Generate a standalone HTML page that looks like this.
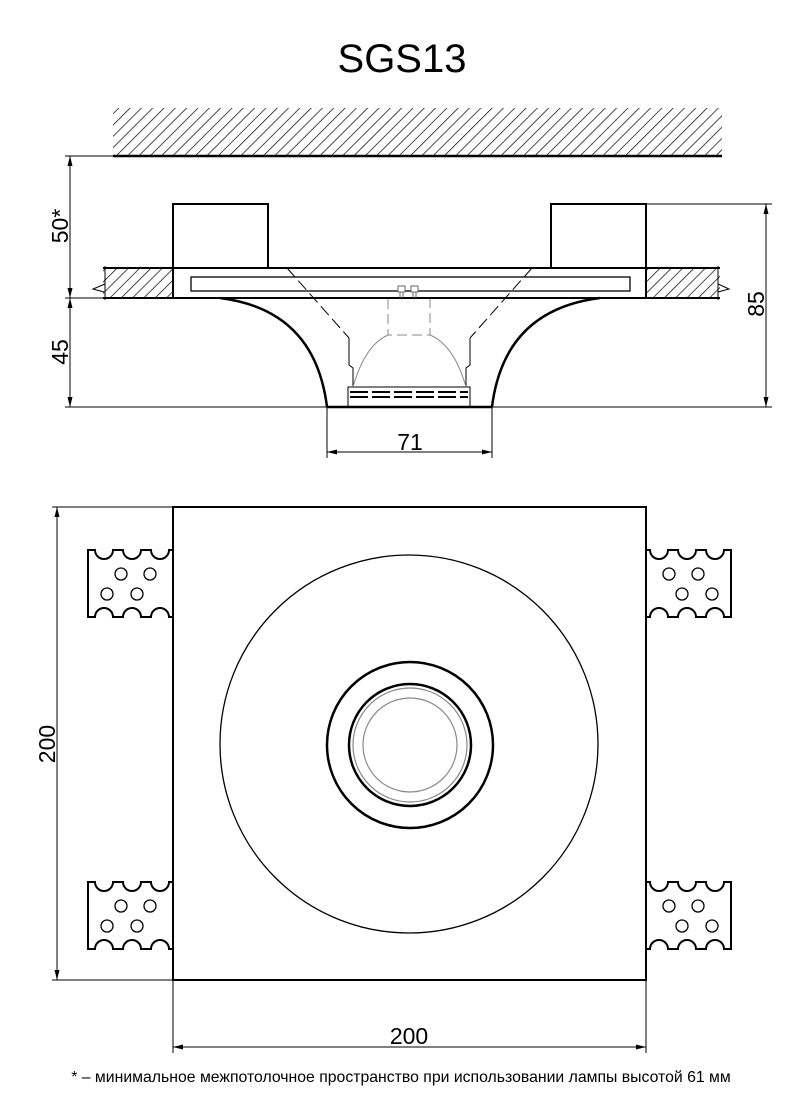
<!DOCTYPE html>
<html><head><meta charset="utf-8"><style>
body{margin:0;background:#fff}
svg{display:block}
text{font-family:"Liberation Sans",sans-serif;fill:#000}
</style></head><body>
<svg width="800" height="1096" viewBox="0 0 800 1096" xmlns="http://www.w3.org/2000/svg">
<defs>
<pattern id="h" patternUnits="userSpaceOnUse" width="8" height="8" patternTransform="rotate(45)">
<line x1="0" y1="0" x2="0" y2="8" stroke="#000" stroke-width="1.4"/>
</pattern>
<marker id="a" viewBox="0 0 10 10" refX="10" refY="5" markerWidth="10" markerHeight="10" orient="auto-start-reverse" markerUnits="userSpaceOnUse"><path d="M0,2.5 L10,5 L0,7.5 z" fill="#000"/></marker>
<g id="tab">
<path d="M88,550 L95,550 A9,9 0 0 0 113,550 L123,550 A9,9 0 0 0 141,550 L151,550 A9,9 0 0 0 169,550 L173,550 L173,617 L169,617 A9,9 0 0 0 151,617 L141,617 A9,9 0 0 0 123,617 L113,617 A9,9 0 0 0 95,617 L88,617 Z" fill="#fff" stroke="#000" stroke-width="2"/>
<circle cx="121" cy="574" r="6" fill="none" stroke="#000" stroke-width="1.3"/>
<circle cx="150" cy="574" r="6" fill="none" stroke="#000" stroke-width="1.3"/>
<circle cx="107" cy="594" r="6" fill="none" stroke="#000" stroke-width="1.3"/>
<circle cx="137" cy="594" r="6" fill="none" stroke="#000" stroke-width="1.3"/>
</g>
</defs>
<text x="402" y="72" font-size="40" text-anchor="middle">SGS13</text>
<rect x="113" y="108" width="609" height="48" fill="url(#h)"/>
<line x1="113" y1="156" x2="722" y2="156" stroke="#000" stroke-width="2.5"/>
<line x1="65" y1="156" x2="113" y2="156" stroke="#000"/>
<line x1="65" y1="298" x2="110" y2="298" stroke="#000"/>
<line x1="65" y1="407" x2="327" y2="407" stroke="#000"/>
<line x1="70" y1="156" x2="70" y2="298" stroke="#000" marker-start="url(#a)" marker-end="url(#a)"/>
<line x1="70" y1="298" x2="70" y2="407" stroke="#000" marker-start="url(#a)" marker-end="url(#a)"/>
<text transform="translate(68,226) rotate(-90)" font-size="23" text-anchor="middle">50*</text>
<text transform="translate(68,352) rotate(-90)" font-size="23" text-anchor="middle">45</text>
<rect x="103" y="268" width="70" height="30" fill="url(#h)"/>
<rect x="646" y="268" width="74" height="30" fill="url(#h)"/>
<path d="M103,268 H720 M103,298 H720" stroke="#000" stroke-width="2" fill="none"/>
<path d="M105,266 V300 M104,292 L93,289 L105,284" stroke="#000" fill="none"/>
<path d="M718,266 V300 M718,292 L729,289 L718,284" stroke="#000" fill="none"/>
<rect x="173" y="204" width="95" height="64" fill="#fff" stroke="#000" stroke-width="2"/>
<rect x="551" y="204" width="95" height="64" fill="#fff" stroke="#000" stroke-width="2"/>
<rect x="173" y="268" width="473" height="30" fill="#fff" stroke="#000" stroke-width="2"/>
<rect x="191" y="277" width="439" height="14" fill="none" stroke="#000" stroke-width="1.3"/>
<path d="M220,298 Q315,310 327,407" fill="none" stroke="#000" stroke-width="2.5"/>
<path d="M600,298 Q504,310 492,407" fill="none" stroke="#000" stroke-width="2.5"/>
<line x1="327" y1="407" x2="492" y2="407" stroke="#000" stroke-width="2.5"/>
<line x1="327" y1="407" x2="327" y2="458" stroke="#000"/>
<line x1="492" y1="407" x2="492" y2="458" stroke="#000"/>
<line x1="327" y1="452" x2="492" y2="452" stroke="#000" marker-start="url(#a)" marker-end="url(#a)"/>
<text x="410" y="450" font-size="23" text-anchor="middle">71</text>
<path d="M287,268 L349,338" stroke="#000" stroke-dasharray="12,5" fill="none"/>
<path d="M532,268 L470,338" stroke="#000" stroke-dasharray="12,5" fill="none"/>
<path d="M349,338 V365 L353,368 V387 M470,338 V365 L466,368 V387" stroke="#000" fill="none"/>
<rect x="348" y="387" width="122" height="20" fill="none" stroke="#000"/>
<path d="M350,392 H468 M350,397 H468" stroke="#000" stroke-width="2" stroke-dasharray="18,4"/>
<path d="M388,299 V335 H430 V299" stroke="#888" stroke-dasharray="10,5" fill="none"/>
<path d="M353,387 Q365,345 388,335 M466,387 Q454,345 430,335" stroke="#888" fill="none"/>
<rect x="398" y="286" width="7" height="6" fill="#fff" stroke="#666"/>
<rect x="411" y="286" width="7" height="6" fill="#fff" stroke="#666"/>
<path d="M400,292 V298 M403,292 V298 M413,292 V298 M416,292 V298" stroke="#666"/>
<line x1="646" y1="204" x2="772" y2="204" stroke="#000"/>
<line x1="492" y1="407" x2="772" y2="407" stroke="#000"/>
<line x1="766" y1="204" x2="766" y2="407" stroke="#000" marker-start="url(#a)" marker-end="url(#a)"/>
<text transform="translate(764,304) rotate(-90)" font-size="23" text-anchor="middle">85</text>
<use href="#tab"/>
<use href="#tab" transform="translate(0,332)"/>
<use href="#tab" transform="translate(819,0) scale(-1,1)"/>
<use href="#tab" transform="translate(819,332) scale(-1,1)"/>
<rect x="173" y="507" width="473" height="473" fill="#fff" stroke="#000" stroke-width="2"/>
<circle cx="409" cy="744" r="189" fill="none" stroke="#000" stroke-width="1.3"/>
<circle cx="410" cy="745" r="83" fill="none" stroke="#000" stroke-width="2.5"/>
<circle cx="410" cy="745" r="61" fill="none" stroke="#000" stroke-width="2.5"/>
<circle cx="410" cy="745" r="57" fill="none" stroke="#888" stroke-width="1.2"/>
<circle cx="410" cy="745" r="47" fill="none" stroke="#888" stroke-width="1.2"/>
<line x1="52" y1="507" x2="173" y2="507" stroke="#000"/>
<line x1="52" y1="980" x2="173" y2="980" stroke="#000"/>
<line x1="57" y1="507" x2="57" y2="980" stroke="#000" marker-start="url(#a)" marker-end="url(#a)"/>
<text transform="translate(55,744) rotate(-90)" font-size="23" text-anchor="middle">200</text>
<line x1="173" y1="980" x2="173" y2="1053" stroke="#000"/>
<line x1="646" y1="980" x2="646" y2="1053" stroke="#000"/>
<line x1="173" y1="1047" x2="646" y2="1047" stroke="#000" marker-start="url(#a)" marker-end="url(#a)"/>
<text x="409" y="1044" font-size="23" text-anchor="middle">200</text>
<text x="401" y="1082" font-size="15.8" text-anchor="middle">* – минимальное межпотолочное пространство при использовании лампы высотой 61 мм</text>
</svg>
</body></html>
